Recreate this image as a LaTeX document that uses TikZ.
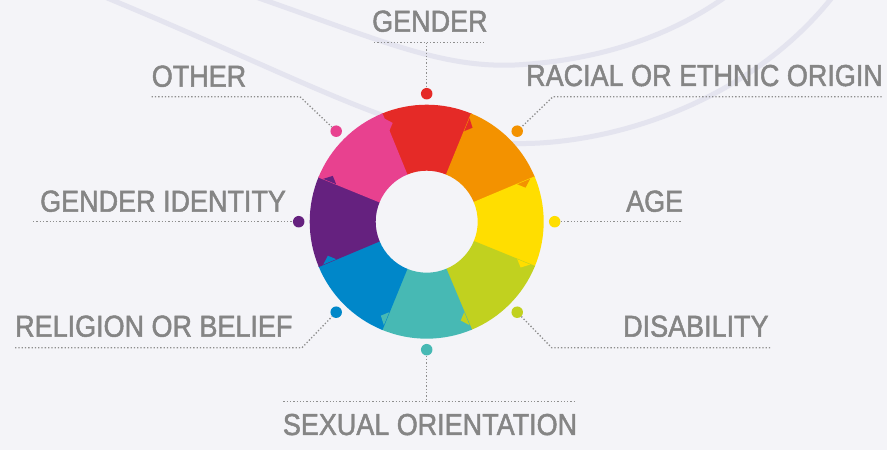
\documentclass[tikz,border=0pt]{standalone}
\usepackage{fontspec}
\newfontfamily\labelfont[FakeStretch=0.89, FakeBold=1.6]{Liberation Sans}
\definecolor{bg}{HTML}{F4F4F8}
\definecolor{curvecol}{HTML}{E4E4EF}
\definecolor{txtgrey}{HTML}{858585}
\definecolor{dotgrey}{HTML}{8E8E8E}
\definecolor{cred}{HTML}{E52A27}
\definecolor{corange}{HTML}{F39200}
\definecolor{cyellow}{HTML}{FFDE00}
\definecolor{cgreen}{HTML}{C1D11F}
\definecolor{cteal}{HTML}{47B9B4}
\definecolor{cblue}{HTML}{0087C9}
\definecolor{cpurple}{HTML}{65217F}
\definecolor{cpink}{HTML}{E8418F}
\begin{document}
\begin{tikzpicture}[x=1pt, y=1pt,
	lab/.style = {font=\labelfont\fontsize{30.3}{32}\selectfont, text=txtgrey, inner sep=0pt, anchor=base west},
	dot/.style = {circle, fill=#1, minimum size=11.5pt, inner sep=0pt},
	lead/.style = {draw=dotgrey, dotted, line width=1.3pt},
	band/.style = {draw=curvecol, line width=5pt}]
	\useasboundingbox (0,0) rectangle (887,450);
	\fill[bg] (0,0) rectangle (887,450);
	\begin{scope}
		\clip (0,0) rectangle (887,450);
		\draw[band] (100,455) .. controls (330,360) and (420,300) .. (540,307) .. controls (640,313) and (760,360) .. (834,455);
		\draw[band] (250,455) .. controls (380,410) and (440,382) .. (515,385) .. controls (610,390) and (680,420) .. (728,455);
	\end{scope}
	\begin{scope}[shift={(426.7,228.3)}]
		\foreach \c [count=\i from 0] in {cred,corange,cyellow,cgreen,cteal,cblue,cpurple,cpink} {
			\pgfmathsetmacro\a{90-45*\i}
			\fill[\c] ({\a+22.8}:117) arc[start angle=\a+22.8, end angle=\a-22.8, radius=117] -- ({\a-22.8}:51) arc[start angle=\a-22.8, end angle=\a+22.8, radius=51] -- cycle;
		}
		\foreach \c [count=\i from 0] in {cred,corange,cyellow,cgreen,cteal,cblue,cpurple,cpink} {
			\pgfmathsetmacro\a{90-45*\i}
			\fill[\c] ({\a-22.5}:98) -- ({\a-26}:104.5) -- ({\a-22.5}:112) -- cycle;
		}
		\node[dot=cred] (dred) at (90:128) {};
		\node[dot=corange] (dorange) at (45:128) {};
		\node[dot=cyellow] (dyellow) at (0:128) {};
		\node[dot=cgreen] (dgreen) at (-45:128) {};
		\node[dot=cteal] (dteal) at (-90:128) {};
		\node[dot=cblue] (dblue) at (-135:128) {};
		\node[dot=cpurple] (dpurple) at (180:128) {};
		\node[dot=cpink] (dpink) at (135:128) {};
	\end{scope}
	\node[lab] (gen) at (372,418.3) {GENDER};
	\node[lab] (oth) at (151.6,363.3) {OTHER};
	\node[lab] (rac) at (526,364) {RACIAL OR ETHNIC ORIGIN};
	\node[lab] (gid) at (40,238.3) {GENDER IDENTITY};
	\node[lab] (age) at (626,238.3) {AGE};
	\node[lab] (rel) at (15,113.3) {RELIGION OR BELIEF};
	\node[lab] (dis) at (623,113.3) {DISABILITY};
	\node[lab] (sex) at (282.7,15) {SEXUAL ORIENTATION};
	\coordinate (g1) at (374,407.3);
	\coordinate (g2) at (426.7,407.3);
	\coordinate (g3) at (486,407.3);
	\coordinate (o1) at (151.6,353.3);
	\coordinate (o2) at (300,353.3);
	\coordinate (r1) at (553,353.3);
	\coordinate (r2) at (881.7,353.3);
	\coordinate (i1) at (33,228.3);
	\coordinate (a1) at (682.7,228.3);
	\coordinate (b1) at (15,102.3);
	\coordinate (b2) at (302,102.3);
	\coordinate (d1) at (551.7,102.3);
	\coordinate (d2) at (770,102.3);
	\coordinate (s1) at (283.3,48.3);
	\coordinate (s2) at (426.7,48.3);
	\coordinate (s3) at (576,48.3);
	\draw[lead] (g1) -- (g3);
	\draw[lead] (g2) -- (dred);
	\draw[lead] (o1) -- (o2) -- (dpink);
	\draw[lead] (r2) -- (r1) -- (dorange);
	\draw[lead] (i1) -- (dpurple);
	\draw[lead] (dyellow) -- (a1);
	\draw[lead] (b1) -- (b2) -- (dblue);
	\draw[lead] (dgreen) -- (d1) -- (d2);
	\draw[lead] (dteal) -- (s2);
	\draw[lead] (s1) -- (s3);
\end{tikzpicture}
\end{document}
